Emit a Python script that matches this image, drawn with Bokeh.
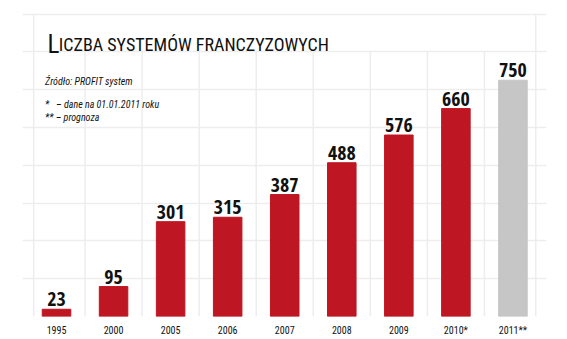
from bokeh.plotting import figure
from bokeh.models import Range1d, FixedTicker, Label, ColumnDataSource
from bokeh.core.properties import value
from bokeh.embed import file_html
from bokeh.resources import INLINE

years = ["1995", "2000", "2005", "2006", "2007", "2008", "2009", "2010*", "2011**"]
counts = [23, 95, 301, 315, 387, 488, 576, 660, 750]
colors = ["#BE1622"] * 8 + ["#C6C6C6"]
grid_step = 120
grid_values = [grid_step * k for k in range(9)]

FONT = "Roboto Condensed"
BOLD = "Open Sans Condensed"

xs = list(range(len(years)))
src = ColumnDataSource(dict(x=xs, top=counts, color=colors, label=[str(c) for c in counts]))

p = figure(width=567, height=339, output_backend="svg", toolbar_location=None,
           x_range=Range1d(-0.596, 8.588), y_range=Range1d(0, 1003),
           min_border_left=22, min_border_right=21, min_border_top=0, min_border_bottom=23)
p.outline_line_color = None
p.background_fill_color = "white"
p.border_fill_color = "white"

# horizontal grid
p.ygrid.ticker = FixedTicker(ticks=grid_values)
p.ygrid.grid_line_color = "#EDEDED"
p.ygrid.grid_line_width = 1.5
p.xgrid.grid_line_color = None

# vertical grid lines (category boundaries)
inner = [i + 0.5 for i in range(len(years) - 1)]
p.segment(x0=inner, y0=[0] * len(inner), x1=inner, y1=[grid_values[-2]] * len(inner),
          line_color="#EDEDED", line_width=1.5)
outer = [-0.4, len(years) - 1 + 0.4]
p.segment(x0=outer, y0=[0, 0], x1=outer, y1=[grid_values[-1]] * 2,
          line_color="#EDEDED", line_width=1.5)

p.vbar(x="x", top="top", width=0.5, color="color", source=src)
p.text(x="x", y="top", text="label", source=src, text_align="center", text_baseline="bottom",
       y_offset=-3, text_font=value(BOLD), text_font_style="bold", text_font_size="20px",
       text_color="#111111")

p.yaxis.visible = False
p.xaxis.ticker = FixedTicker(ticks=xs)
p.xaxis.major_label_overrides = {i: y for i, y in enumerate(years)}
p.xaxis.axis_line_color = None
p.xaxis.major_tick_line_color = None
p.xaxis.minor_tick_line_color = None
p.xaxis.major_tick_out = 0
p.xaxis.major_label_standoff = 8
p.xaxis.major_label_text_font = FONT
p.xaxis.major_label_text_font_style = "normal"
p.xaxis.major_label_text_font_size = "10px"
p.xaxis.major_label_text_color = "#111111"

# title (small caps)
p.add_layout(Label(x=-0.16, y=863, text="L", text_font=FONT, text_font_size="25px",
                   text_color="#111111", text_baseline="alphabetic"))
p.add_layout(Label(x=0.04, y=863, text="ICZBA SYSTEMÓW FRANCZYZOWYCH", text_font=FONT,
                   text_font_size="18px", text_color="#111111", text_baseline="alphabetic"))

notes = ["Źródło: PROFIT system", "*\u00a0\u00a0\u00a0– dane na 01.01.2011 roku", "** – prognoza"]
note_y = [746, 673, 632]
for t, yy in zip(notes, note_y):
    p.add_layout(Label(x=-0.2, y=yy, text=t, text_font=FONT, text_font_style="italic",
                       text_font_size="10px", text_color="#111111", text_baseline="alphabetic"))

open("out.html", "w").write(file_html(p, INLINE))
